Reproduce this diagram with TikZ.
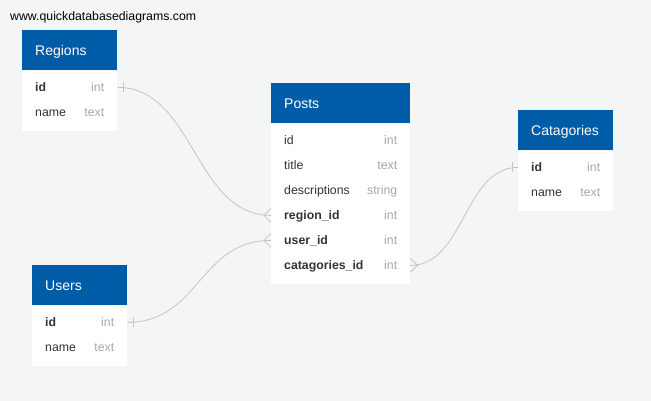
\documentclass[tikz,border=0pt]{standalone}
\usepackage{fontspec}
\setmainfont{Liberation Sans}

\definecolor{hdrblue}{HTML}{005CA6}
\definecolor{canvas}{HTML}{F4F5F5}
\definecolor{fieldtxt}{HTML}{30343A}
\definecolor{typetxt}{HTML}{A8A8A8}
\definecolor{linkgray}{HTML}{C4C4C4}

\tikzset{
  hdr/.style={fill=hdrblue, text=white, anchor=north west, align=left,
    font=\fontsize{14}{14}\selectfont, inner xsep=13pt, inner ysep=0pt,
    minimum height=40pt, text height=10pt, text depth=0pt},
  body/.style={fill=white, anchor=north, inner sep=0pt},
  field/.style={anchor=west, inner sep=0pt, text=fieldtxt,
    font=\fontsize{12.3}{12.3}\selectfont, text height=8.8pt, text depth=0pt},
  type/.style={field, anchor=east, text=typetxt},
  link/.style={draw=linkgray, line width=0.8pt}
}

\begin{document}
\begin{tikzpicture}[x=1pt, y=-1pt]
  \fill[canvas] (0,0) rectangle (651,401);
  \useasboundingbox (0,0) rectangle (651,401);

  \node[field, text=black] (site) at (10,16) {www.quickdatabasediagrams.com};

  % Regions
  \node[hdr, text width=69pt] (regions) at (22,30) {Regions};
  \node[body, minimum width=95pt, minimum height=60pt] (regions-b) at (regions.south) {};
  \foreach \f/\t [count=\i] in {\bfseries id/int, name/text} {
    \node[field] (regions-f\i) at ([xshift=13pt, yshift={-17pt-25pt*(\i-1)}]regions.south west) {\f};
    \node[type] (regions-t\i) at ([xshift=-13pt, yshift={-17pt-25pt*(\i-1)}]regions.south east) {\t};
  }

  % Posts
  \node[hdr, text width=113pt] (posts) at (271,83) {Posts};
  \node[body, minimum width=139pt, minimum height=160pt] (posts-b) at (posts.south) {};
  \foreach \f/\t [count=\i] in {id/int, title/text, descriptions/string,
      \bfseries region\_id/int, \bfseries user\_id/int, \bfseries catagories\_id/int} {
    \node[field] (posts-f\i) at ([xshift=13pt, yshift={-17pt-25pt*(\i-1)}]posts.south west) {\f};
    \node[type] (posts-t\i) at ([xshift=-13pt, yshift={-17pt-25pt*(\i-1)}]posts.south east) {\t};
  }

  % Catagories
  \node[hdr, text width=69pt] (catagories) at (518,110) {Catagories};
  \node[body, minimum width=95pt, minimum height=60pt] (catagories-b) at (catagories.south) {};
  \foreach \f/\t [count=\i] in {\bfseries id/int, name/text} {
    \node[field] (catagories-f\i) at ([xshift=13pt, yshift={-17pt-25pt*(\i-1)}]catagories.south west) {\f};
    \node[type] (catagories-t\i) at ([xshift=-13pt, yshift={-17pt-25pt*(\i-1)}]catagories.south east) {\t};
  }

  % Users
  \node[hdr, text width=69pt] (users) at (32,265) {Users};
  \node[body, minimum width=95pt, minimum height=60pt] (users-b) at (users.south) {};
  \foreach \f/\t [count=\i] in {\bfseries id/int, name/text} {
    \node[field] (users-f\i) at ([xshift=13pt, yshift={-17pt-25pt*(\i-1)}]users.south west) {\f};
    \node[type] (users-t\i) at ([xshift=-13pt, yshift={-17pt-25pt*(\i-1)}]users.south east) {\t};
  }

  % Link ends
  \coordinate (regions-one) at (regions-t1 -| regions.east);
  \coordinate (users-one) at (users-t1 -| users.east);
  \coordinate (catagories-one) at (catagories-f1 -| catagories.west);
  \coordinate (posts-region) at (posts-f4 -| posts.west);
  \coordinate (posts-user) at (posts-f5 -| posts.west);
  \coordinate (posts-catagory) at (posts-t6 -| posts.east);

  % Links
  \draw[link] (regions-one) .. controls +(77,0) and +(-77,0) .. (posts-region);
  \draw[link] (users-one) .. controls +(72,0) and +(-72,0) .. (posts-user);
  \draw[link] (posts-catagory) .. controls +(54,0) and +(-54,0) .. (catagories-one);

  % One ends
  \draw[link] ([xshift=6pt, yshift=5pt]regions-one) -- ([xshift=6pt, yshift=-5pt]regions-one);
  \draw[link] ([xshift=6pt, yshift=5pt]users-one) -- ([xshift=6pt, yshift=-5pt]users-one);
  \draw[link] ([xshift=-6pt, yshift=5pt]catagories-one) -- ([xshift=-6pt, yshift=-5pt]catagories-one);

  % Many ends
  \draw[link] ([yshift=7pt]posts-region) -- ([xshift=-7pt]posts-region) -- ([yshift=-7pt]posts-region);
  \draw[link] ([yshift=7pt]posts-user) -- ([xshift=-7pt]posts-user) -- ([yshift=-7pt]posts-user);
  \draw[link] ([yshift=7pt]posts-catagory) -- ([xshift=7pt]posts-catagory) -- ([yshift=-7pt]posts-catagory);
\end{tikzpicture}
\end{document}
